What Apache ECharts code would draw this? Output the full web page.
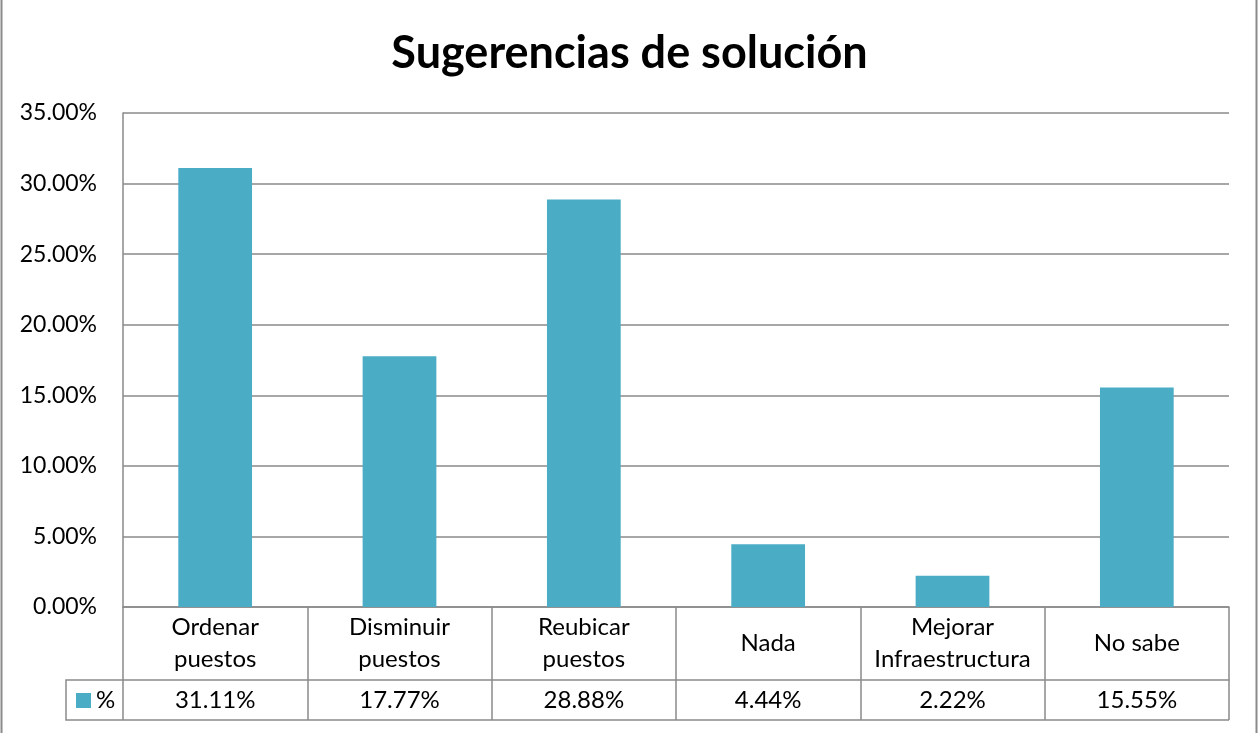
<!DOCTYPE html>
<html>
<head>
<meta charset="utf-8">
<style>
  html, body { margin: 0; padding: 0; background: #fff; }
  #chart { width: 1259px; height: 733px; }
</style>
<script src="https://cdn.jsdelivr.net/npm/echarts@6/dist/echarts.min.js"></script>
</head>
<body>
<div id="chart"></div>
<script>
// Chart data
const titleText = 'Sugerencias de solución';
const categories = ['Ordenar\npuestos', 'Disminuir\npuestos', 'Reubicar\npuestos', 'Nada', 'Mejorar\nInfraestructura', 'No sabe'];
const seriesName = '%';
const values = [31.11, 17.77, 28.88, 4.44, 2.22, 15.55];
const yMax = 35;
const yStep = 5;

// Layout
const W = 1259, H = 733;
const gridLeft = 123, gridRight = 30, gridTop = 113, gridBottom = 126;
const row1 = 73;   // category row height
const row2 = 40;   // value row height
const legendLeft = 66;
const lineColor = '#8a8a8a';
const barColor = '#4bacc6';
const font = 'Lato';

const axisY = H - gridBottom;
const plotRight = W - gridRight;

const chart = echarts.init(document.getElementById('chart'), null, { renderer: 'canvas' });

chart.setOption({
  backgroundColor: '#fff',
  animation: false,
  textStyle: { fontFamily: font },
  title: {
    text: titleText,
    left: 'center',
    top: 26,
    textStyle: { fontFamily: font, fontWeight: 'bold', fontSize: 45, color: '#000' }
  },
  grid: { left: gridLeft, right: gridRight, top: gridTop, bottom: gridBottom, containLabel: false },
  xAxis: [
    {
      type: 'category',
      data: categories,
      position: 'bottom',
      axisLine: { show: true, lineStyle: { color: lineColor, width: 1.5 } },
      axisTick: { show: true, length: row1, lineStyle: { color: lineColor, width: 1.5 } },
      axisLabel: {
        margin: row1 / 2,
        verticalAlign: 'middle',
        fontSize: 24,
        lineHeight: 32,
        color: '#000',
        fontFamily: font,
        interval: 0
      }
    },
    {
      type: 'category',
      data: categories,
      position: 'bottom',
      offset: row1,
      axisLine: { show: true, lineStyle: { color: lineColor, width: 1.5 } },
      axisTick: { show: true, length: row2, lineStyle: { color: lineColor, width: 1.5 } },
      axisLabel: {
        margin: row2 / 2,
        verticalAlign: 'middle',
        fontSize: 24,
        color: '#000',
        fontFamily: font,
        interval: 0,
        formatter: (v, i) => values[i].toFixed(2) + '%'
      }
    }
  ],
  yAxis: {
    type: 'value',
    min: 0,
    max: yMax,
    interval: yStep,
    axisLine: { show: true, lineStyle: { color: lineColor, width: 1.5 } },
    axisTick: { show: false },
    splitLine: { show: true, lineStyle: { color: lineColor, width: 1.5 } },
    axisLabel: {
      margin: 26,
      fontSize: 23,
      color: '#000',
      fontFamily: font,
      formatter: v => v.toFixed(2) + '%'
    }
  },
  series: [
    {
      name: seriesName,
      type: 'bar',
      xAxisIndex: 0,
      data: values,
      barWidth: '40%',
      itemStyle: { color: barColor }
    }
  ],
  graphic: [
    // outer chart border
    {
      type: 'rect',
      shape: { x: 1.5, y: -2, width: W - 4, height: H + 4 },
      style: { fill: 'none', stroke: '#8a8a8a', lineWidth: 2 },
      silent: true
    },
    // legend key cell of the data table
    {
      type: 'polyline',
      shape: { points: [[gridLeft, axisY + row1], [legendLeft, axisY + row1], [legendLeft, axisY + row1 + row2], [plotRight, axisY + row1 + row2]] },
      style: { fill: 'none', stroke: lineColor, lineWidth: 1.5 },
      silent: true
    },
    {
      type: 'rect',
      shape: { x: 76, y: axisY + row1 + row2 / 2 - 7, width: 15, height: 15 },
      style: { fill: barColor },
      silent: true
    },
    {
      type: 'text',
      x: 96,
      y: axisY + row1 + row2 / 2,
      style: { text: seriesName, fontSize: 24, fontFamily: font, fill: '#000', verticalAlign: 'middle', align: 'left' },
      silent: true
    }
  ]
});
</script>
</body>
</html>
